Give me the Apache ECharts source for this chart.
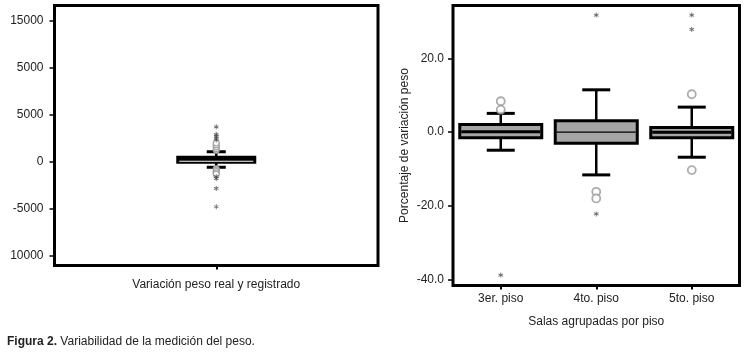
<!DOCTYPE html>
<html>
<head>
<meta charset="utf-8">
<script src="https://cdn.jsdelivr.net/npm/echarts@6/dist/echarts.min.js"></script>
<style>
  html, body { margin: 0; padding: 0; background: #fff; }
  #main { width: 745px; height: 355px; }
</style>
</head>
<body>
<div id="main"></div>
<script>
// datos del panel izquierdo
var leftCategories = ['Variación peso real y registrado'];
var leftTickLabels = ['10000', '-5000', '0', '5000', '5000', '15000'];
// [bigote inf, Q1, mediana, Q3, bigote sup]
var leftBoxes = [[-600, -80, 40, 470, 1050]];
var leftCircles = [[0, 1200], [0, 1400], [0, 1600], [0, 1800], [0, 2000], [0, -750], [0, -900], [0, -1050], [0, -1200], [0, -1350]];
var leftStars = [[0, 2300], [0, 2500], [0, 2700], [0, 2900], [0, 3700], [0, -1600], [0, -1800], [0, -2850], [0, -4800]];

// datos del panel derecho
var rightCategories = ['3er. piso', '4to. piso', '5to. piso'];
var rightTickLabels = ['-40.0', '-20.0', '0.0', '20.0'];
var rightBoxes = [
  [-4.9, -1.5, 0.1, 2.1, 5.1],
  [-11.6, -3.0, 0.0, 3.1, 11.5],
  [-6.8, -1.5, 0.0, 1.3, 6.8]
];
var rightCircles = [[0, 8.4], [0, 6.1], [1, -16.2], [1, -18.0], [2, 10.3], [2, -10.3]];
var rightStars = [[0, -38.8], [1, 31.8], [1, -22.2], [2, 31.8], [2, 27.9]];

var chart = echarts.init(document.getElementById('main'));

var starPath = 'path://M4.2,0 L5.8,0 L5.8,10 L4.2,10 Z M0.27,3.19 L1.07,1.81 L9.73,6.81 L8.93,8.19 Z M8.93,1.81 L9.73,3.19 L1.07,8.19 L0.27,6.81 Z';

function toRows(boxes) {
  return boxes.map(function (b, i) { return [i].concat(b); });
}

function boxRender(boxW, capW, fill, medianColor, medianWidths) {
  return function (params, api) {
    var i = api.value(0);
    var lo = api.coord([i, api.value(1)]);
    var q1 = api.coord([i, api.value(2)]);
    var md = api.coord([i, api.value(3)]);
    var q3 = api.coord([i, api.value(4)]);
    var hi = api.coord([i, api.value(5)]);
    var x = lo[0];
    var ln = { stroke: '#000', lineWidth: 2.5 };
    var cap = { stroke: '#000', lineWidth: 3 };
    return {
      type: 'group',
      children: [
        { type: 'line', shape: { x1: x, y1: hi[1], x2: x, y2: q3[1] }, style: ln },
        { type: 'line', shape: { x1: x, y1: q1[1], x2: x, y2: lo[1] }, style: ln },
        { type: 'line', shape: { x1: x - capW / 2, y1: hi[1], x2: x + capW / 2, y2: hi[1] }, style: cap },
        { type: 'line', shape: { x1: x - capW / 2, y1: lo[1], x2: x + capW / 2, y2: lo[1] }, style: cap },
        { type: 'rect', shape: { x: x - boxW / 2, y: q3[1], width: boxW, height: q1[1] - q3[1] },
          style: { fill: fill, stroke: '#000', lineWidth: 3 } },
        { type: 'line', shape: { x1: x - boxW / 2 + 1.5, y1: md[1], x2: x + boxW / 2 - 1.5, y2: md[1] },
          style: { stroke: medianColor, lineWidth: medianWidths[i] } }
      ]
    };
  };
}

var labelStyle = { color: '#222', fontSize: 12, fontFamily: 'Liberation Sans' };

var option = {
  backgroundColor: '#fff',
  animation: false,
  title: {
    left: 7,
    top: 336,
    padding: 0,
    text: '{b|Figura 2.} Variabilidad de la medición del peso.',
    textStyle: {
      fontSize: 12, fontWeight: 'normal', color: '#222', fontFamily: 'Liberation Sans',
      rich: { b: { fontWeight: 'bold', fontSize: 12, color: '#222', fontFamily: 'Liberation Sans' } }
    }
  },
  grid: [
    { left: 54.5, right: 367, top: 5.5, bottom: 89.5, show: true, borderColor: '#000', borderWidth: 3, backgroundColor: 'transparent' },
    { left: 54.5, right: 367, top: 20.5, bottom: 99.3 },
    { left: 453, right: 5.5, top: 5.5, bottom: 69.5, show: true, borderColor: '#000', borderWidth: 3, backgroundColor: 'transparent' },
    { left: 453, right: 5.5, top: 58.5, bottom: 75.5 }
  ],
  xAxis: [
    {
      gridIndex: 0, type: 'category', data: leftCategories,
      axisLine: { show: false },
      axisTick: { show: true, alignWithLabel: true, length: 4, lineStyle: { color: '#000', width: 2 } },
      axisLabel: Object.assign({ margin: 13 }, labelStyle)
    },
    { gridIndex: 1, type: 'category', data: leftCategories, show: false },
    {
      gridIndex: 2, type: 'category', data: rightCategories,
      axisLine: { show: false },
      axisTick: { show: true, alignWithLabel: true, length: 4, lineStyle: { color: '#000', width: 2 } },
      axisLabel: Object.assign({ margin: 7 }, labelStyle),
      name: 'Salas agrupadas por piso', nameLocation: 'middle', nameGap: 30,
      nameTextStyle: labelStyle
    },
    { gridIndex: 3, type: 'category', data: rightCategories, show: false }
  ],
  yAxis: [
    { gridIndex: 0, type: 'value', show: false },
    {
      gridIndex: 1, type: 'value', min: -10000, max: 15000, interval: 5000,
      axisLine: { show: false },
      axisTick: { show: true, length: 5, lineStyle: { color: '#000', width: 1.5 } },
      splitLine: { show: false },
      axisLabel: Object.assign({
        margin: 11,
        formatter: function (v) { return leftTickLabels[Math.round((v + 10000) / 5000)]; }
      }, labelStyle)
    },
    {
      gridIndex: 2, type: 'value',
      axisLine: { show: false }, axisTick: { show: false }, axisLabel: { show: false }, splitLine: { show: false },
      name: 'Porcentaje de variación peso', nameLocation: 'middle', nameGap: 42,
      nameTextStyle: labelStyle
    },
    {
      gridIndex: 3, type: 'value', min: -40, max: 20, interval: 20,
      axisLine: { show: false },
      axisTick: { show: true, length: 5, lineStyle: { color: '#000', width: 1.5 } },
      splitLine: { show: false },
      axisLabel: Object.assign({
        margin: 9,
        formatter: function (v) { return rightTickLabels[Math.round((v + 40) / 20)]; }
      }, labelStyle)
    }
  ],
  series: [
    {
      type: 'custom', xAxisIndex: 1, yAxisIndex: 1,
      renderItem: boxRender(77, 19, '#000', '#fff', [1]),
      encode: { x: 0, y: [1, 2, 3, 4, 5] },
      data: toRows(leftBoxes), z: 2
    },
    {
      type: 'scatter', xAxisIndex: 1, yAxisIndex: 1, clip: false,
      symbol: 'circle', symbolSize: 6,
      itemStyle: { color: '#fff', borderColor: '#999', borderWidth: 1.2 },
      data: leftCircles, z: 3
    },
    {
      type: 'scatter', xAxisIndex: 1, yAxisIndex: 1, clip: false,
      symbol: starPath, symbolSize: 5,
      itemStyle: { color: '#444' },
      data: leftStars, z: 3
    },
    {
      type: 'custom', xAxisIndex: 3, yAxisIndex: 3,
      renderItem: boxRender(82, 28, '#a5a5a5', '#000', [3, 1.2, 3]),
      encode: { x: 0, y: [1, 2, 3, 4, 5] },
      data: toRows(rightBoxes), z: 2
    },
    {
      type: 'scatter', xAxisIndex: 3, yAxisIndex: 3, clip: false,
      symbol: 'circle', symbolSize: 8,
      itemStyle: { color: '#fff', borderColor: '#999', borderWidth: 1.8 },
      data: rightCircles, z: 3
    },
    {
      type: 'scatter', xAxisIndex: 3, yAxisIndex: 3, clip: false,
      symbol: starPath, symbolSize: 5,
      itemStyle: { color: '#444' },
      data: rightStars, z: 3
    }
  ]
};

chart.setOption(option);
</script>
</body>
</html>
